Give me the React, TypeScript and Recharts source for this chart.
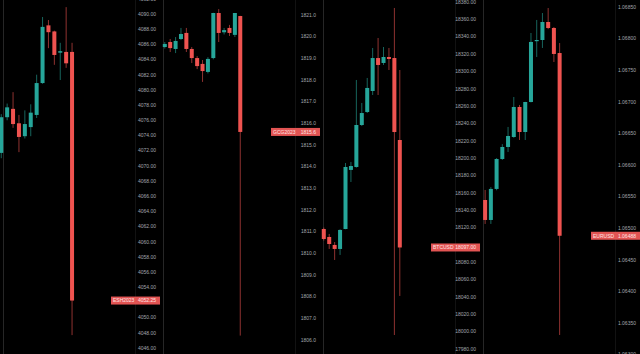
import { ComposedChart, Bar, XAxis, YAxis, ReferenceLine } from 'recharts'

// open, high, low, close
type Ohlc = [number, number, number, number]

const esCandles: Ohlc[] = [
  [4071.7, 4076.8, 4071.0, 4076.4],
  [4076.4, 4078.2, 4076.0, 4077.7],
  [4077.5, 4079.7, 4075.0, 4075.5],
  [4075.6, 4076.7, 4071.8, 4073.8],
  [4073.9, 4077.3, 4073.6, 4075.5],
  [4075.1, 4078.1, 4073.9, 4077.0],
  [4076.7, 4082.0, 4076.3, 4080.9],
  [4080.9, 4089.6, 4080.8, 4088.3],
  [4088.5, 4089.2, 4085.5, 4087.6],
  [4087.7, 4087.8, 4083.3, 4084.6],
  [4084.9, 4086.2, 4081.3, 4085.1],
  [4085.0, 4090.9, 4082.9, 4083.5],
  [4085.0, 4086.2, 4047.7, 4052.25],
]

const gcCandles: Ohlc[] = [
  [1819.52, 1819.75, 1819.45, 1819.66],
  [1819.75, 1819.89, 1819.29, 1819.47],
  [1819.43, 1819.98, 1819.24, 1819.8],
  [1819.89, 1820.4, 1819.84, 1820.12],
  [1820.17, 1820.4, 1819.29, 1819.43],
  [1819.43, 1819.52, 1818.78, 1819.01],
  [1819.01, 1819.1, 1818.5, 1818.64],
  [1818.74, 1818.92, 1817.91, 1818.41],
  [1818.37, 1819.05, 1818.3, 1818.97],
  [1819.01, 1821.1, 1818.95, 1821.09],
  [1821.09, 1821.27, 1819.75, 1820.17],
  [1820.2, 1820.4, 1820.1, 1820.3],
  [1820.4, 1820.54, 1820.03, 1820.17],
  [1820.08, 1821.09, 1819.98, 1821.09],
  [1820.95, 1820.96, 1806.2, 1815.6],
]

const btcCandles: Ohlc[] = [
  [18118.3, 18120.0, 18105.0, 18106.8],
  [18109.1, 18112.6, 18095.3, 18101.0],
  [18099.9, 18103.3, 18082.6, 18095.3],
  [18095.3, 18118.0, 18088.4, 18117.2],
  [18118.3, 18194.4, 18118.0, 18189.8],
  [18186.4, 18195.6, 18172.5, 18190.9],
  [18189.8, 18290.1, 18189.0, 18238.2],
  [18238.2, 18263.6, 18237.0, 18252.0],
  [18253.2, 18292.4, 18252.0, 18280.9],
  [18277.4, 18327.0, 18272.8, 18315.4],
  [18315.4, 18338.5, 18272.8, 18307.4],
  [18309.7, 18328.1, 18307.4, 18316.6],
  [18316.6, 18327.0, 18301.6, 18314.3],
  [18315.4, 18373.1, 17996.1, 18230.1],
  [18220.9, 18301.6, 18041.1, 18097.0],
]

const eurCandles: Ohlc[] = [
  [1.065446, 1.065605, 1.065067, 1.06513],
  [1.06513, 1.06565, 1.065067, 1.065621],
  [1.065621, 1.06611, 1.0656, 1.066095],
  [1.066095, 1.06633, 1.06608, 1.066285],
  [1.066285, 1.066602, 1.066206, 1.066459],
  [1.066443, 1.067076, 1.06643, 1.066918],
  [1.066918, 1.06695, 1.066396, 1.066522],
  [1.066522, 1.067, 1.066396, 1.066997],
  [1.066997, 1.068089, 1.06699, 1.067947],
  [1.067963, 1.068295, 1.067709, 1.067978],
  [1.067978, 1.068405, 1.067852, 1.068263],
  [1.068263, 1.068484, 1.06815, 1.068168],
  [1.068168, 1.068184, 1.06763, 1.067757],
  [1.067772, 1.06793, 1.06331, 1.06488],
]

const esTicks = [
  4046, 4048, 4050, 4054, 4056, 4058, 4060, 4062, 4064, 4066, 4068, 4070,
  4072, 4074, 4076, 4078, 4080, 4082, 4084, 4086, 4088, 4090, 4092,
]
const gcTicks = [
  1806, 1807, 1808, 1809, 1810, 1811, 1812, 1813, 1814, 1815, 1816, 1817,
  1818, 1819, 1820, 1821,
]
const btcTicks = [
  17980, 18000, 18020, 18040, 18060, 18080, 18120, 18140, 18160, 18180,
  18200, 18220, 18240, 18260, 18280, 18300, 18320, 18340, 18360, 18380,
]
const eurTicks = [
  1.063, 1.0635, 1.064, 1.0645, 1.065, 1.0655, 1.066, 1.0665, 1.067, 1.0675,
  1.068, 1.0685,
]

const UP = '#26a69a'
const DOWN = '#ef5350'
const FONT = '"Liberation Sans", Arial, sans-serif'

const PANEL_W = 160
const PANEL_H = 354
const AXIS_W = 25
const PLOT_W = PANEL_W - AXIS_W

interface PanelProps {
  symbol: string
  candles: Ohlc[]
  ticks: number[]
  yDomain: [number, number]
  decimals: number
  lastLabel: string
  firstX: number // pixel centre of the first candle
  step: number // pixel distance between candles
}

function Candle(props: any) {
  const { x, y, width, height, payload } = props
  if (x == null || y == null || !payload) return null
  const [o, h, l, c] = payload.ohlc as Ohlc
  const top = Math.min(y, y + height)
  const span = Math.abs(height)
  const toPx = (v: number) => top + ((h - v) / (h - l)) * span
  const color = c >= o ? UP : DOWN
  const cx = x + width / 2
  const bodyTop = toPx(Math.max(o, c))
  const bodyH = Math.max(1.2, toPx(Math.min(o, c)) - bodyTop)
  return (
    <g>
      <line x1={cx} x2={cx} y1={top} y2={top + span} stroke={color} strokeOpacity={0.6} strokeWidth={1} />
      <rect x={x} y={bodyTop} width={width} height={bodyH} fill={color} />
    </g>
  )
}

function Panel({ symbol, candles, ticks, yDomain, decimals, lastLabel, firstX, step }: PanelProps) {
  const data = candles.map((k, i) => ({ i, range: [k[2], k[1]], ohlc: k }))
  const x0 = -firstX / step
  const xDomain: [number, number] = [x0, x0 + PLOT_W / step]
  const last = candles[candles.length - 1][3]

  return (
    <div style={{ position: 'relative', width: PANEL_W, height: PANEL_H }}>
      <div style={{ position: 'absolute', left: 3, top: 0, width: 1, height: PANEL_H, background: '#262626' }} />
      <div style={{ position: 'absolute', left: PLOT_W, top: 0, width: 1, height: PANEL_H, background: '#121212' }} />
      <ComposedChart width={PANEL_W} height={PANEL_H} data={data} margin={{ top: 0, right: 0, bottom: 0, left: 0 }}>
        <XAxis type="number" dataKey="i" domain={xDomain} allowDataOverflow hide />
        <YAxis
          orientation="right"
          width={AXIS_W}
          domain={yDomain}
          ticks={ticks}
          interval={0}
          allowDataOverflow
          axisLine={false}
          tickLine={false}
          tick={(t: any) => (
            <text
              key={t.payload.value}
              x={156}
              y={t.y}
              dy={1.8}
              textAnchor="end"
              fontSize={5}
              fontFamily={FONT}
              fill="#a3a6ad"
            >
              {Number(t.payload.value).toFixed(decimals)}
            </text>
          )}
        />
        <Bar dataKey="range" barSize={4} shape={<Candle />} isAnimationActive={false} />
        <ReferenceLine
          y={last}
          stroke="none"
          label={(p: any) => {
            const vy = p.viewBox?.y ?? 0
            return (
              <g>
                <rect x={111} y={vy - 4} width={49} height={8} fill="#e25453" />
                <text x={113} y={vy} dy={1.8} fontSize={5} fontFamily={FONT} fill="#ffe3e3">
                  {symbol}
                </text>
                <text x={156} y={vy} dy={1.8} textAnchor="end" fontSize={5} fontFamily={FONT} fill="#ffe3e3">
                  {lastLabel}
                </text>
              </g>
            )
          }}
        />
      </ComposedChart>
    </div>
  )
}

export default function App() {
  return (
    <div
      style={{
        position: 'absolute',
        left: 0,
        top: 0,
        width: 640,
        height: 354,
        background: '#000',
        display: 'flex',
        overflow: 'hidden',
      }}
    >
      <Panel symbol="ESH2023" candles={esCandles} ticks={esTicks} yDomain={[4045.21, 4091.84]} decimals={2} lastLabel="4052.25" firstX={1.2} step={5.9} />
      <Panel symbol="GCG2023" candles={gcCandles} ticks={gcTicks} yDomain={[1805.35, 1821.69]} decimals={1} lastLabel="1815.6" firstX={4.5} step={5.39} />
      <Panel symbol="BTCUSD" candles={btcCandles} ticks={btcTicks} yDomain={[17974.2, 18382.3]} decimals={2} lastLabel="18097.00" firstX={3.5} step={5.43} />
      <Panel symbol="EURUSD" candles={eurCandles} ticks={eurTicks} yDomain={[1.063009, 1.068611]} decimals={5} lastLabel="1.06488" firstX={5} step={5.73} />
    </div>
  )
}
